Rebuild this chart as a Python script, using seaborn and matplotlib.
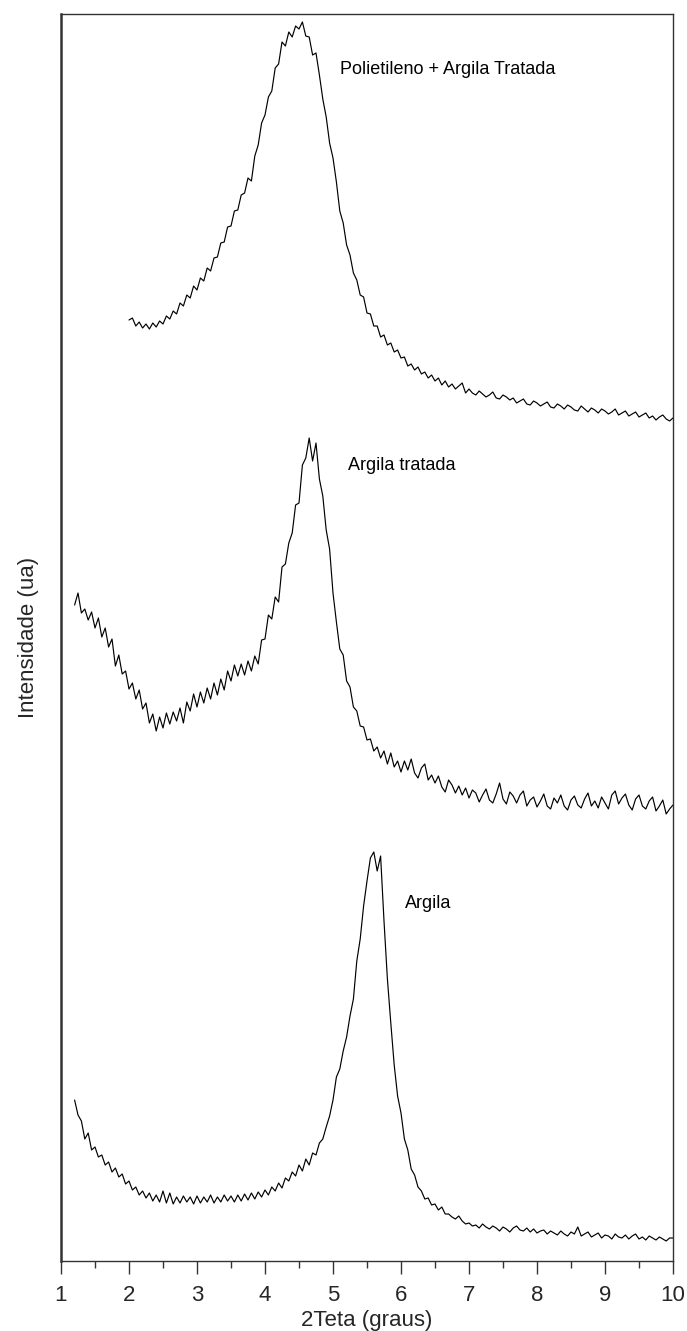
import numpy as np
import pandas as pd
import matplotlib
matplotlib.use("Agg")
import matplotlib.pyplot as plt
import seaborn as sns

# Scan step (2θ, degrees) and start angle of each diffractogram
STEP = 0.05
start_pe = 2.0
start_trat = 1.2
start_arg = 1.2

# Intensity (a.u., vertically stacked) — Polietileno + Argila Tratada
pe_argila_tratada = [
    941, 943, 935, 939, 933, 937, 932, 938, 934, 940,
    937, 945, 942, 950, 947, 958, 955, 966, 963, 975,
    971, 983, 980, 993, 990, 1003, 1004, 1018, 1019, 1034,
    1035, 1050, 1051, 1066, 1068, 1083, 1080, 1105, 1116, 1138,
    1146, 1164, 1170, 1193, 1197, 1219, 1215, 1229, 1224, 1235,
    1232, 1239, 1225, 1224, 1206, 1208, 1186, 1162, 1144, 1118,
    1103, 1079, 1050, 1038, 1016, 1006, 988, 981, 966, 964,
    948, 947, 935, 935, 924, 926, 916, 918, 909, 911,
    903, 904, 895, 897, 891, 894, 887, 889, 883, 886,
    880, 883, 876, 880, 874, 877, 872, 875, 878, 868,
    872, 868, 866, 870, 867, 864, 866, 869, 863, 862,
    866, 864, 861, 863, 858, 860, 862, 857, 856, 860,
    858, 855, 857, 859, 854, 853, 857, 855, 852, 856,
    854, 851, 850, 855, 852, 849, 853, 851, 848, 852,
    850, 847, 849, 852, 846, 848, 850, 845, 847, 849,
    844, 846, 848, 843, 845, 841, 844, 846, 842, 840,
    843,
]

# Intensity (a.u.) — Argila tratada
argila_tratada = [
    656, 668, 648, 652, 641, 649, 633, 643, 624, 633,
    614, 622, 595, 606, 587, 590, 572, 578, 562, 571,
    552, 558, 538, 547, 530, 544, 533, 548, 537, 549,
    540, 553, 538, 559, 550, 567, 554, 569, 558, 573,
    562, 578, 566, 582, 571, 590, 580, 596, 585, 597,
    586, 600, 590, 605, 597, 621, 622, 646, 642, 664,
    659, 694, 697, 718, 728, 756, 758, 796, 803, 823,
    800, 818, 782, 765, 731, 712, 668, 639, 612, 606,
    580, 574, 554, 550, 535, 534, 521, 522, 510, 514,
    503, 510, 497, 508, 494, 500, 489, 500, 491, 502,
    488, 483, 493, 497, 481, 486, 478, 485, 474, 469,
    481, 476, 468, 475, 466, 473, 463, 471, 468, 459,
    466, 472, 461, 458, 467, 478, 462, 457, 469, 465,
    458, 466, 470, 455, 461, 464, 454, 460, 467, 455,
    452, 463, 458, 466, 455, 451, 461, 465, 456, 453,
    462, 468, 455, 460, 453, 464, 458, 452, 466, 470,
    457, 463, 467, 456, 451, 462, 466, 455, 452, 460,
    464, 450, 455, 461, 447, 452, 456,
]

# Intensity (a.u.) — Argila
argila = [
    161, 146, 140, 122, 128, 111, 114, 104, 106, 96,
    99, 89, 93, 84, 87, 77, 80, 71, 74, 66,
    70, 63, 68, 60, 66, 59, 70, 58, 68, 57,
    64, 58, 65, 59, 64, 57, 65, 58, 64, 59,
    66, 58, 64, 59, 66, 60, 65, 59, 66, 60,
    67, 61, 68, 62, 69, 64, 71, 66, 74, 70,
    78, 73, 83, 80, 89, 85, 96, 90, 102, 96,
    108, 106, 118, 122, 134, 145, 161, 184, 192, 210,
    224, 245, 262, 300, 322, 355, 380, 403, 409, 390,
    405, 340, 282, 238, 196, 165, 148, 122, 111, 92,
    86, 74, 70, 62, 63, 56, 57, 51, 54, 47,
    47, 44, 42, 45, 40, 37, 38, 35, 36, 33,
    37, 34, 32, 35, 33, 30, 34, 32, 29, 33,
    35, 31, 30, 33, 29, 32, 28, 30, 31, 27,
    30, 28, 26, 30, 27, 25, 29, 27, 34, 25,
    27, 29, 24, 26, 28, 23, 26, 25, 22, 27,
    24, 23, 26, 22, 25, 27, 22, 24, 21, 25,
    23, 21, 24, 22, 20, 23, 23,
]

sample_names = ["Polietileno + Argila Tratada", "Argila tratada", "Argila"]
x_ticks = [1, 2, 3, 4, 5, 6, 7, 8, 9, 10]


def scan(start, values):
    two_theta = np.round(start + STEP * np.arange(len(values)), 3)
    return two_theta, np.asarray(values, dtype=float)


frames = []
for name, start, vals in zip(sample_names,
                             [start_pe, start_trat, start_arg],
                             [pe_argila_tratada, argila_tratada, argila]):
    tt, iy = scan(start, vals)
    frames.append(pd.DataFrame({"2theta": tt, "intensidade": iy, "amostra": name}))
df = pd.concat(frames, ignore_index=True)

sns.set_style("ticks")
plt.rcParams["font.family"] = ["Liberation Sans", "DejaVu Sans"]

fig = plt.figure(figsize=(6.87, 13.31), dpi=100)
ax = fig.add_axes([61 / 687, 1 - 1261 / 1331, (673 - 61) / 687, (1261 - 14) / 1331])

sns.lineplot(data=df, x="2theta", y="intensidade", hue="amostra",
             units="amostra", estimator=None, sort=True,
             palette=["black"] * 3, linewidth=0.85, legend=False, ax=ax)

ax.set_xlim(1, 10)
ax.set_ylim(0, 1247)
ax.set_xticks(x_ticks)
ax.set_xticklabels([str(t) for t in x_ticks])
ax.set_xticks(np.arange(1.5, 10, 1.0), minor=True)
ax.set_yticks([])
ax.tick_params(axis="x", which="major", direction="out", length=9, width=1,
               color="#333333", labelsize=16, pad=8)
ax.tick_params(axis="x", which="minor", direction="out", length=5, width=1,
               color="#333333")
ax.tick_params(axis="x", top=False)

for side in ["top", "right", "bottom"]:
    ax.spines[side].set_visible(True)
    ax.spines[side].set_linewidth(1.0)
    ax.spines[side].set_color("#333333")
ax.spines["left"].set_linewidth(1.8)
ax.spines["left"].set_color("#333333")

ax.set_xlabel("2Teta (graus)", fontsize=16, labelpad=3)
ax.set_ylabel("Intensidade (ua)", fontsize=16, labelpad=16)

# Sample labels next to each peak
label_pos = {"Polietileno + Argila Tratada": (5.1, 1191),
             "Argila tratada": (5.22, 796),
             "Argila": (6.06, 358)}
for name in sample_names:
    lx, ly = label_pos[name]
    ax.text(lx, ly, name, fontsize=13, ha="left", va="center", color="black")

fig.savefig("out.png", dpi=100)
